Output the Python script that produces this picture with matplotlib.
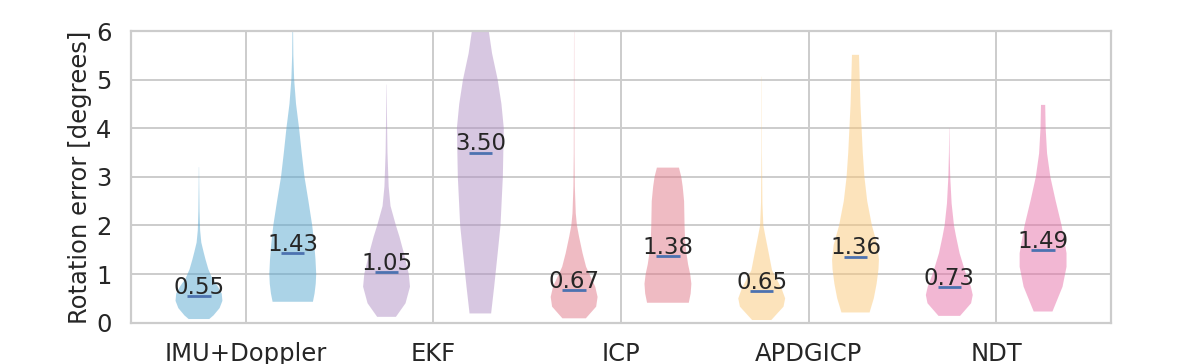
"""
Violin plot of rotation error per method (two runs per method),
drawn from density profiles read off the figure with ax.violin.
"""

import numpy as np
import matplotlib.pyplot as plt

plt.rcParams['font.family'] = ['DejaVu Sans']

# ── Data ────────────────────────────────────────────────────────────────
METHODS = ['IMU+Doppler', 'EKF', 'ICP', 'APDGICP', 'NDT']
MEANS   = [0.55, 1.43, 1.05, 3.50, 0.67, 1.38, 0.65, 1.36, 0.73, 1.49]

# density profiles (y in degrees, relative width)
imu_a_y = [0.075, 0.15, 0.3, 0.45, 0.6, 0.75, 0.9, 1.1, 1.3, 1.45, 1.65, 1.9, 2.3, 2.8, 3.2]
imu_a_w = [0.44, 0.62, 0.88, 1.0, 0.97, 0.8, 0.58, 0.4, 0.28, 0.2, 0.1, 0.05, 0.025, 0.012, 0.005]
imu_b_y = [0.43, 0.6, 0.8, 1.0, 1.3, 1.6, 2.0, 2.5, 3.0, 3.5, 4.0, 4.5, 5.0, 5.5, 6.2]
imu_b_w = [0.86, 0.93, 0.98, 1.0, 0.97, 0.92, 0.83, 0.67, 0.5, 0.38, 0.27, 0.14, 0.06, 0.025, 0.01]

ekf_a_y = [0.12, 0.4, 0.74, 1.0, 1.43, 1.77, 2.0, 2.4, 2.8, 3.5, 4.2, 4.9]
ekf_a_w = [0.4, 0.81, 1.0, 0.95, 0.74, 0.55, 0.4, 0.17, 0.09, 0.04, 0.02, 0.005]
ekf_b_y = [0.19, 0.74, 1.43, 2.0, 3.0, 4.0, 4.5, 5.0, 5.54, 6.0, 6.5, 7.0]
ekf_b_w = [0.46, 0.59, 0.74, 0.86, 0.96, 1.0, 0.9, 0.74, 0.5, 0.36, 0.25, 0.1]

icp_a_y = [0.09, 0.33, 0.53, 0.74, 1.15, 1.43, 1.77, 2.0, 2.25, 2.8, 3.5, 6.0]
icp_a_w = [0.5, 0.94, 1.0, 0.9, 0.51, 0.36, 0.21, 0.12, 0.07, 0.03, 0.015, 0.005]
icp_b_y = [0.41, 0.6, 0.8, 1.0, 1.2, 1.43, 1.7, 2.0, 2.5, 2.8, 3.0, 3.19]
icp_b_w = [0.89, 0.97, 1.0, 0.95, 0.86, 0.79, 0.73, 0.71, 0.69, 0.63, 0.57, 0.47]

apd_a_y = [0.055, 0.33, 0.5, 0.7, 1.08, 1.43, 1.77, 2.0, 2.45, 3.5, 5.06]
apd_a_w = [0.41, 0.93, 1.0, 0.85, 0.44, 0.3, 0.16, 0.07, 0.03, 0.01, 0.005]
apd_b_y = [0.21, 0.5, 0.8, 1.1, 1.3, 1.6, 2.0, 2.5, 3.0, 3.5, 4.0, 4.5, 5.0, 5.51]
apd_b_w = [0.6, 0.78, 0.9, 0.98, 1.0, 0.93, 0.7, 0.5, 0.38, 0.31, 0.26, 0.21, 0.18, 0.15]

ndt_a_y = [0.14, 0.4, 0.57, 0.74, 1.0, 1.43, 1.77, 2.0, 2.45, 3.0, 3.5, 4.0]
ndt_a_w = [0.46, 0.93, 1.0, 0.92, 0.71, 0.44, 0.29, 0.2, 0.1, 0.04, 0.015, 0.005]
ndt_b_y = [0.23, 0.74, 1.15, 1.43, 2.0, 2.52, 3.0, 3.48, 4.0, 4.48]
ndt_b_w = [0.4, 0.83, 1.0, 1.0, 0.79, 0.53, 0.31, 0.17, 0.11, 0.09]

PROFILES = [(imu_a_y, imu_a_w), (imu_b_y, imu_b_w),
            (ekf_a_y, ekf_a_w), (ekf_b_y, ekf_b_w),
            (icp_a_y, icp_a_w), (icp_b_y, icp_b_w),
            (apd_a_y, apd_a_w), (apd_b_y, apd_b_w),
            (ndt_a_y, ndt_a_w), (ndt_b_y, ndt_b_w)]

COLORS = ['#59a9d1', '#b191c5', '#e17989', '#fbc979', '#e771a9']

# ── Plot ────────────────────────────────────────────────────────────────
fig = plt.figure(figsize=(11.96, 3.64), dpi=100)
ax = fig.add_axes([0.1095, 0.1135, 0.8195, 0.8013])

stats = []
for (ys, ws), m in zip(PROFILES, MEANS):
    stats.append({'coords': np.array(ys), 'vals': np.array(ws),
                  'mean': m, 'median': m, 'min': ys[0], 'max': ys[-1]})

positions = np.arange(1, len(stats) + 1)
parts = ax.violin(stats, positions=positions, widths=0.5,
                  showmeans=True, showextrema=False, showmedians=False)

for i, body in enumerate(parts['bodies']):
    body.set_facecolor(COLORS[i // 2])
    body.set_edgecolor('none')
    body.set_alpha(0.5)
    body.set_zorder(2)
parts['cmeans'].set_color('#4c72b0')
parts['cmeans'].set_linewidth(2)
parts['cmeans'].set_zorder(3)

for p, m in zip(positions, MEANS):
    ax.annotate(f'{m:.2f}', (p, m), xytext=(0, 1.5), textcoords='offset points',
                ha='center', va='baseline', fontsize=16.5, color='#262626', zorder=4)

ax.set_xlim(0.275, 10.725)
ax.set_ylim(0, 6)
ax.set_xticks(positions[::2] + 0.5)
ax.set_xticklabels(METHODS)
ax.set_yticks(range(7))
ax.set_ylabel('Rotation error [degrees]', fontsize=17.5, color='#262626', labelpad=3)
ax.tick_params(axis='both', length=0, labelsize=17.5, labelcolor='#262626')
ax.tick_params(axis='y', pad=14)
ax.tick_params(axis='x', pad=14)

ax.set_axisbelow(True)
ax.grid(True, color='#cccccc', lw=1.4)
for s in ax.spines.values():
    s.set_color('#cccccc')
    s.set_linewidth(1.6)

plt.savefig('out.png', dpi=100)
plt.close()
